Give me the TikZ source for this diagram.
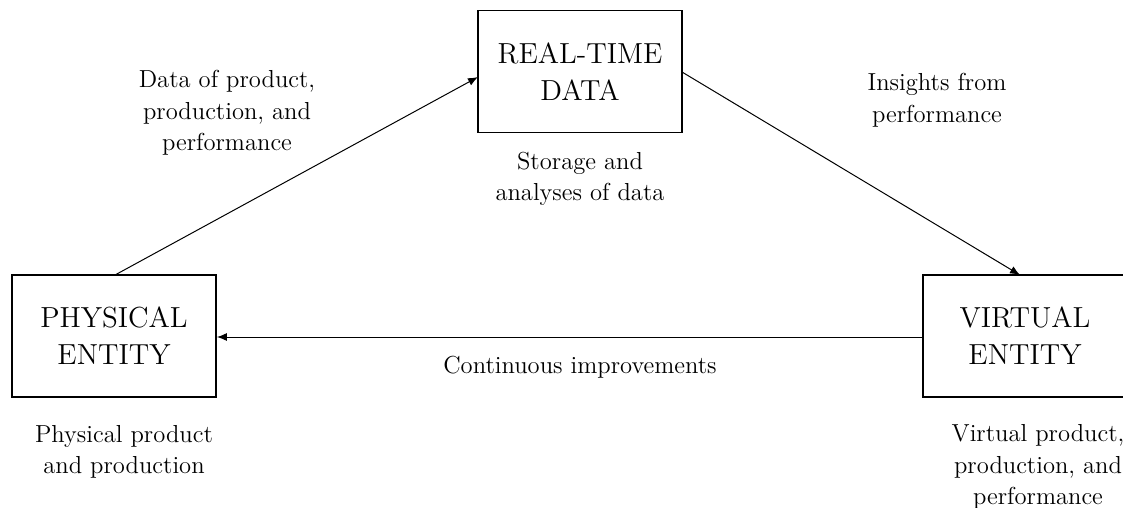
\documentclass[tikz,border=0pt]{standalone}
\usetikzlibrary{arrows.meta}
\begin{document}
\begin{tikzpicture}[x=0.5pt,y=-0.5pt,
  boxnode/.style={draw, line width=0.9pt, minimum width=102pt, minimum height=61pt, inner sep=0pt, font=\fontsize{14.5}{18.5}\selectfont, align=center},
  lbl/.style={font=\fontsize{12.3}{15.8}\selectfont, align=center, inner sep=0pt},
  conn/.style={line width=0.5pt, -{Latex[length=5pt,width=4pt]}}]
\useasboundingbox (0,0) rectangle (1123,508);
\node[boxnode] (rt) at (580,71.5) {REAL-TIME\\DATA};
\node[boxnode] (pe) at (114,336) {PHYSICAL\\ENTITY};
\node[boxnode] (ve) at (1025,336) {VIRTUAL\\ENTITY};
\coordinate (peTop) at (115,275);
\coordinate (rtLeft) at (478,77);
\coordinate (rtRight) at (682,72);
\coordinate (veTop) at (1020,275);
\draw[conn] (peTop) -- (rtLeft);
\draw[conn] (rtRight) -- (veTop);
\draw[conn] (ve.west |- 0,337) -- (pe.east |- 0,337);
\node[lbl] (t1) at (227,113) {Data of product,\\production, and\\performance};
\node[lbl] (t2) at (580,179) {Storage and\\analyses of data};
\node[lbl] (t3) at (937,100) {Insights from\\performance};
\node[lbl] (t4) at (580,367) {Continuous improvements};
\node[lbl] (t5) at (124,452) {Physical product\\and production};
\node[lbl] (t6) at (1038,467) {Virtual product,\\production, and\\performance};
\end{tikzpicture}
\end{document}
